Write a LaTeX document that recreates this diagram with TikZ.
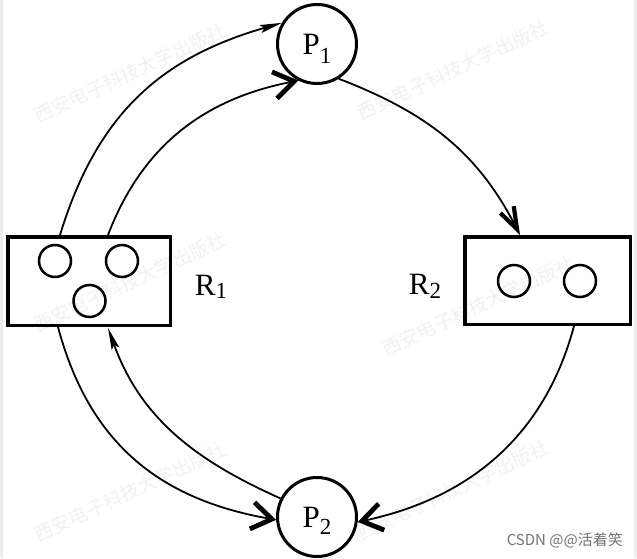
\documentclass[tikz,border=0pt]{standalone}
\usepackage{fontspec}
\setmainfont{Liberation Serif}
\newfontfamily\cjkfont{Noto Sans CJK SC}
\usetikzlibrary{arrows.meta}
\newcommand{\lbl}[3]{#1\raisebox{-#2pt}[0pt][0pt]{\fontsize{23}{23}\selectfont #3}}
\begin{document}
\begin{tikzpicture}[x=1pt,y=1pt,
  proc/.style={circle, draw, line width=3pt, minimum size=79pt, inner sep=0pt, font=\fontsize{31}{31}\selectfont},
  res/.style={rectangle, draw, line width=3.5pt, inner sep=0pt},
  tok/.style={circle, draw, line width=2.5pt, minimum size=32pt, inner sep=0pt},
  rlabel/.style={font=\fontsize{31}{31}\selectfont, inner sep=0pt},
  conn/.style={line width=1.8pt},
  boldtip/.style={-{Straight Barb[length=20pt,width=27pt,line width=4.8pt]}},
  narrowtip/.style={-{Straight Barb[length=22pt,width=15pt,line width=4.2pt]}},
  thintip/.style={-{Stealth[length=22pt,width=8pt,inset=4pt]}},
  wm/.style={font=\cjkfont\fontsize{19}{19}\selectfont, text=black!5, rotate=25},
  strip/.style={fill=black!7, draw=none}
]
\useasboundingbox (0,0) rectangle (637,558);
\fill[white] (0,0) rectangle (637,558);
\fill[strip] (0,0) rectangle (3,558);
\fill[strip] (634,0) rectangle (637,558);

% watermarks
\node[wm] (w1) at (130,485) {西安电子科技大学出版社};
\node[wm] (w2) at (453,488) {西安电子科技大学出版社};
\node[wm] (w3) at (130,276) {西安电子科技大学出版社};
\node[wm] (w4) at (478,252) {西安电子科技大学出版社};
\node[wm] (w5) at (130,66) {西安电子科技大学出版社};
\node[wm] (w6) at (453,68) {西安电子科技大学出版社};

% processes
\node[proc] (P1) at (317,514) {\lbl{P}{9}{1}};
\node[proc] (P2) at (317,41) {\lbl{P}{7}{2}};

% resources
\node[res, minimum width=162.5pt, minimum height=88.5pt] (R1) at (89,277) {};
\node[res, minimum width=165.5pt, minimum height=87.5pt] (R2) at (547.5,277.5) {};
\node[tok] (t11) at (55,297) {};
\node[tok] (t12) at (122,297) {};
\node[tok] (t13) at (89.5,257) {};
\node[tok] (t21) at (514,277) {};
\node[tok] (t22) at (580,277) {};
\node[rlabel] (L1) at (211,273) {\lbl{R}{3}{1}};
\node[rlabel] (L2) at (425,274) {\lbl{R}{4}{2}};

% connectors
\draw[conn,thintip] ([xshift=54pt]R1.north west) to[out=73,in=196,looseness=1.05] (P1.149);
\draw[conn,boldtip] ([xshift=102pt]R1.north west) to[out=69,in=191] (P1.243);
\draw[conn,narrowtip] (P1.302) to[out=-21,in=117] ([xshift=57pt]R2.north west);
\draw[conn,boldtip] ([xshift=111pt]R2.south west) to[out=-105,in=12] (P2.353);
\draw[conn,boldtip] ([xshift=52pt]R1.south west) to[out=-75,in=170,looseness=1.05] (P2.184);
\draw[conn,thintip] (P2.153) to[out=156,in=290] ([xshift=102pt,yshift=-1pt]R1.south west);

% credit
\node[anchor=east, font=\cjkfont\fontsize{15}{15}\selectfont, text=black!55, inner sep=0pt] (cr) at (623,18) {CSDN @@活着笑};
\end{tikzpicture}
\end{document}
